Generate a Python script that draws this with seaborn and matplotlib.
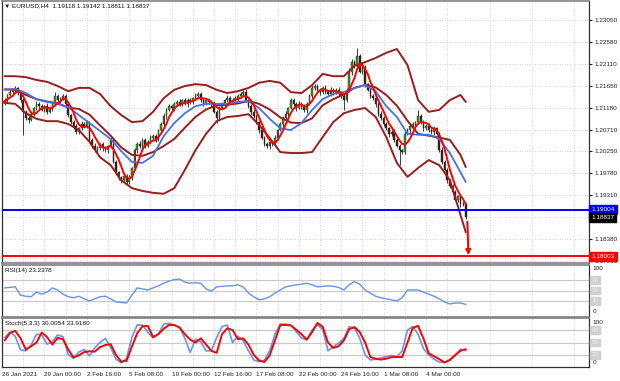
import numpy as np
import pandas as pd
import matplotlib
matplotlib.use("Agg")
import matplotlib.pyplot as plt
import matplotlib.transforms as mtransforms
import seaborn as sns

sns.set_style("white")
plt.rcParams['font.family'] = ['Liberation Sans', 'DejaVu Sans']

# EURUSD H4 closes, one per bar (bar 0 = 26 Jan 2021)
closes = [1.2128,
          1.2134, 1.2145, 1.2151, 1.2156, 1.2160, 1.2151, 1.2134, 1.2109, 1.2096, 1.2092,
          1.2104, 1.2117, 1.2126, 1.2121, 1.2113, 1.2121, 1.2109, 1.2117, 1.2126, 1.2143,
          1.2134, 1.2138, 1.2143, 1.2126, 1.2102, 1.2087, 1.2079, 1.2066, 1.2074, 1.2083,
          1.2079, 1.2087, 1.2049, 1.2036, 1.2027, 1.2032, 1.2040, 1.2032, 1.2027, 1.2036,
          1.2049, 1.2002, 1.1980, 1.1968, 1.1963, 1.1972, 1.1959, 1.1968, 1.1989, 1.2027,
          1.2040, 1.2036, 1.2049, 1.2036, 1.2045, 1.2053, 1.2057, 1.2049, 1.2070, 1.2083,
          1.2100, 1.2113, 1.2121, 1.2117, 1.2126, 1.2130, 1.2126, 1.2134, 1.2126, 1.2134,
          1.2130, 1.2138, 1.2143, 1.2147, 1.2134, 1.2126, 1.2134, 1.2130, 1.2126, 1.2109,
          1.2096, 1.2117, 1.2126, 1.2134, 1.2138, 1.2130, 1.2134, 1.2138, 1.2143, 1.2147,
          1.2151, 1.2134, 1.2121, 1.2109, 1.2100, 1.2087, 1.2070, 1.2053, 1.2040, 1.2036,
          1.2045, 1.2040, 1.2053, 1.2070, 1.2083, 1.2096, 1.2104, 1.2117, 1.2134, 1.2126,
          1.2117, 1.2126, 1.2121, 1.2113, 1.2126, 1.2143, 1.2160, 1.2164, 1.2156, 1.2151,
          1.2160, 1.2151, 1.2147, 1.2156, 1.2151, 1.2156, 1.2147, 1.2143, 1.2134, 1.2156,
          1.2194, 1.2215, 1.2207, 1.2228, 1.2194, 1.2203, 1.2168, 1.2156, 1.2143, 1.2138,
          1.2126, 1.2104, 1.2096, 1.2083, 1.2074, 1.2062, 1.2066, 1.2049, 1.2036, 1.2027,
          1.2023, 1.2062, 1.2070, 1.2079, 1.2083, 1.2087, 1.2100, 1.2087, 1.2074, 1.2079,
          1.2070, 1.2066, 1.2074, 1.2062, 1.2027, 1.2002, 1.1985, 1.1963, 1.1951, 1.1938,
          1.1921, 1.1929, 1.1912, 1.19118, 1.18837]

# wick length beyond the body, in pips
wick_up = [4, 5, 3, 6, 4, 5, 3, 4, 6, 3, 5, 4, 3, 7, 4, 5,
           3, 6, 4, 5, 8, 4, 3, 5, 4, 6, 3, 4, 5, 3, 6, 4,
           5, 3, 4, 6, 4, 3, 5, 4, 3, 6, 4, 5, 3, 4, 5, 4,
           6, 3, 5, 4, 6, 5, 4, 3, 6, 4, 5, 3, 4, 6, 4, 5,
           3, 5, 4, 6, 3, 4, 5, 4, 3, 6, 4, 5, 4, 3, 5, 4,
           6, 3, 4, 5, 3, 6, 4, 5, 4, 3, 5, 4, 6, 3, 4, 5,
           4, 3, 6, 4, 5, 3, 4, 6, 3, 5, 4, 6, 3, 4, 5, 4,
           6, 3, 5, 4, 3, 6, 4, 5, 3, 4, 6, 4, 5, 3, 4, 6,
           4, 5, 3, 8, 6, 4, 17, 5, 4, 6, 3, 4, 5, 4, 3, 6,
           4, 5, 3, 4, 6, 4, 5, 3, 6, 4, 5, 4, 3, 13, 5, 4,
           3, 6, 4, 5, 3, 4, 6, 4, 5, 3, 4, 5, 3, 4, 6, 2.4]
wick_dn = [5, 4, 6, 3, 5, 4, 7, 5, 49, 4, 6, 3, 5, 4, 6, 3,
           4, 5, 3, 6, 4, 5, 6, 3, 4, 5, 3, 6, 4, 5, 3, 4,
           5, 6, 4, 3, 5, 4, 6, 3, 5, 4, 3, 6, 4, 5, 3, 6,
           4, 5, 3, 6, 4, 5, 4, 3, 5, 6, 4, 3, 5, 4, 6, 3,
           4, 6, 3, 5, 4, 3, 6, 4, 5, 3, 6, 4, 5, 3, 4, 6,
           3, 11, 5, 4, 6, 3, 4, 5, 3, 6, 4, 5, 3, 4, 6, 5,
           4, 6, 3, 5, 4, 6, 3, 4, 5, 3, 6, 4, 5, 3, 4, 6,
           3, 5, 4, 6, 3, 4, 5, 3, 6, 4, 5, 3, 4, 6, 3, 5,
           4, 21, 5, 3, 6, 4, 5, 3, 4, 6, 3, 5, 4, 6, 3, 4,
           5, 3, 6, 4, 5, 3, 32, 4, 5, 3, 6, 4, 5, 3, 4, 6,
           3, 5, 4, 6, 3, 4, 5, 3, 6, 4, 5, 3, 4, 6, 3, 2.6]

# price-window indicators, read every 4th bar
ind_bars = list(range(1, 174, 4)) + [175]
bb_upper = [1.2185, 1.2185, 1.2183, 1.2177, 1.2173, 1.2164, 1.2153, 1.2160, 1.2160, 1.2147,
            1.2121, 1.2102, 1.2087, 1.2089, 1.2109, 1.2138, 1.2156, 1.2164, 1.2168, 1.2166,
            1.2156, 1.2149, 1.2153, 1.2160, 1.2171, 1.2175, 1.2171, 1.2151, 1.2149, 1.2166,
            1.2190, 1.2185, 1.2185, 1.2207, 1.2215, 1.2224, 1.2235, 1.2243, 1.2209, 1.2134,
            1.2109, 1.2113, 1.2134, 1.2145, 1.2130]
bb_mid = [1.2157, 1.2156, 1.2145, 1.2136, 1.2131, 1.2127, 1.2118, 1.2115, 1.2103, 1.2080,
          1.2058, 1.2033, 1.2017, 1.2015, 1.2023, 1.2036, 1.2051, 1.2075, 1.2098, 1.2114,
          1.2123, 1.2124, 1.2127, 1.2132, 1.2126, 1.2114, 1.2097, 1.2086, 1.2085, 1.2095,
          1.2123, 1.2136, 1.2146, 1.2160, 1.2166, 1.2161, 1.2145, 1.2122, 1.2090, 1.2062,
          1.2058, 1.2054, 1.2049, 1.2017, 1.1991]
bb_lower = [1.2128, 1.2126, 1.2106, 1.2094, 1.2089, 1.2089, 1.2083, 1.2070, 1.2045, 1.2012,
            1.1995, 1.1963, 1.1946, 1.1940, 1.1936, 1.1934, 1.1946, 1.1985, 1.2027, 1.2062,
            1.2089, 1.2098, 1.2100, 1.2104, 1.2081, 1.2053, 1.2023, 1.2021, 1.2021, 1.2023,
            1.2055, 1.2087, 1.2106, 1.2113, 1.2117, 1.2098, 1.2055, 1.2000, 1.1970, 1.1989,
            1.2006, 1.1995, 1.1963, 1.1889, 1.1852]
ma_blue = [1.2156, 1.2158, 1.2149, 1.2136, 1.2130, 1.2126, 1.2119, 1.2102, 1.2085, 1.2068,
           1.2051, 1.2025, 1.2002, 1.2000, 1.2015, 1.2057, 1.2085, 1.2106, 1.2121, 1.2126,
           1.2126, 1.2126, 1.2130, 1.2132, 1.2117, 1.2094, 1.2074, 1.2070, 1.2085, 1.2113,
           1.2136, 1.2147, 1.2151, 1.2160, 1.2166, 1.2153, 1.2121, 1.2098, 1.2062, 1.2060,
           1.2060, 1.2051, 1.2021, 1.1980, 1.1959]

# oscillators, read every 2nd bar
osc_bars = list(range(1, 176, 2))
rsi = [55, 56, 57, 41, 39, 38, 47, 43, 47, 55,
       51, 43, 38, 36, 39, 34, 30, 34, 38, 39,
       34, 28, 27, 26, 41, 55, 53, 51, 55, 59,
       64, 68, 71, 72, 66, 64, 65, 64, 53, 49,
       57, 58, 59, 59, 61, 57, 45, 38, 32, 34,
       38, 45, 51, 57, 59, 61, 62, 64, 61, 57,
       58, 59, 58, 56, 51, 61, 67, 62, 51, 45,
       39, 36, 34, 32, 30, 36, 51, 51, 51, 47,
       43, 39, 34, 28, 24, 26, 26, 23.24]
stoch_k = [62, 75, 65, 32, 30, 44, 70, 68, 46, 52,
           68, 64, 21, 12, 27, 33, 18, 37, 50, 60,
           38, 10, 1, 12, 62, 92, 92, 75, 61, 70,
           94, 96, 92, 86, 60, 26, 58, 52, 30, 30,
           62, 88, 92, 50, 65, 55, 30, 8, 4, 7,
           30, 70, 94, 94, 92, 76, 61, 56, 80, 92,
           82, 30, 40, 48, 60, 88, 85, 60, 20, 8,
           10, 13, 16, 19, 16, 30, 80, 88, 70, 36,
           20, 10, 3, 2, 8, 18, 34, 30.0]
stoch_d = [55, 73, 78, 60, 33, 41, 50, 74, 63, 45,
           61, 58, 33, 14, 19, 27, 29, 28, 39, 44,
           46, 20, 4, 6, 40, 72, 89, 90, 63, 70,
           83, 92, 92, 86, 70, 57, 50, 60, 45, 30,
           25, 70, 84, 80, 58, 60, 45, 20, 7, 3,
           19, 55, 92, 92, 91, 81, 70, 57, 75, 97,
           88, 50, 37, 41, 55, 82, 87, 75, 50, 15,
           11, 9, 11, 15, 15, 15, 50, 85, 90, 60,
           24, 17, 10, 2, 8, 20, 30, 33.9]
rsi_levels = [70, 50, 30]
stoch_levels = [80, 50, 20]

x_ticks = list(range(0, 161, 16))
x_labels = ['26 Jan 2021', '29 Jan 00:00', '2 Feb 16:00', '5 Feb 08:00', '10 Feb 00:00',
            '12 Feb 16:00', '17 Feb 08:00', '22 Feb 00:00', '24 Feb 16:00', '1 Mar 08:00',
            '4 Mar 00:00']
price_ticks = [1.23050, 1.22580, 1.22110, 1.21650, 1.21180, 1.20710, 1.20250, 1.19780,
               1.19310, 1.18840, 1.18380, 1.17910]
level_blue = 1.19004
level_red = 1.18003
ohlc = [1.19118, 1.19142, 1.18811, 1.18837]
rsi_last = 23.2378
stoch_last = [30.0054, 33.9160]
arrow_from = (175.6, 1.18744)
arrow_to = (176.0, 1.18030)

# candles
df = pd.DataFrame({'close': closes})
df['open'] = df['close'].shift(1).fillna(df['close'])
df['high'] = df[['open', 'close']].max(axis=1) + np.array(wick_up) * 1e-4
df['low'] = df[['open', 'close']].min(axis=1) - np.array(wick_dn) * 1e-4
df['ma5'] = df['close'].rolling(5, min_periods=1).mean()

fs = 4.6
grid_kw = dict(color='#c4c4c4', linestyle=(0, (1, 2)), linewidth=0.6)

fig = plt.figure(figsize=(6.2, 3.81), dpi=100)
ax = fig.add_axes([2 / 620, 118 / 381, 587 / 620, 262 / 381])
ax_rsi = fig.add_axes([2 / 620, 64.5 / 381, 587 / 620, 52 / 381], sharex=ax)
ax_st = fig.add_axes([2 / 620, 14 / 381, 587 / 620, 49 / 381], sharex=ax)

# main chart
ax.vlines(df.index, df['low'], df['high'], color='#1e1e1e', linewidth=0.6, zorder=3)
body_lo = df[['open', 'close']].min(axis=1)
body_h = (df['close'] - df['open']).abs().clip(lower=0.00004)
bull = df['close'] >= df['open']
ax.bar(df.index[bull], body_h[bull], bottom=body_lo[bull], width=0.6, color='#3a9a22',
       edgecolor='#1e1e1e', linewidth=0.3, zorder=4)
ax.bar(df.index[~bull], body_h[~bull], bottom=body_lo[~bull], width=0.6, color='#3a1e1e',
       edgecolor='#1e1e1e', linewidth=0.3, zorder=4)

for band in [bb_upper, bb_mid, bb_lower]:
    sns.lineplot(x=ind_bars, y=band, ax=ax, color='#9b1c1c', linewidth=1.4, zorder=5,
                 estimator=None, legend=False)
sns.lineplot(x=ind_bars, y=ma_blue, ax=ax, color='#4472e6', linewidth=1.3, zorder=5,
             estimator=None, legend=False)
sns.lineplot(x=df.index, y=df['ma5'], ax=ax, color='#ff0000', linewidth=1.4, zorder=6,
             estimator=None, legend=False)

ax.axhline(level_blue, color='#0000ff', linewidth=1.4, zorder=7)
ax.axhline(level_red, color='#ff0000', linewidth=1.4, zorder=7)
ax.annotate('', xy=arrow_to, xytext=arrow_from,
            arrowprops=dict(arrowstyle='-|>', color='#ff0000', lw=1.5, mutation_scale=7,
                            shrinkA=0, shrinkB=0), zorder=8)

ax.set_xlim(0, 221.5)
ax.set_ylim(1.17862, 1.234557)
ax.set_yticks(price_ticks)
# the 1.18840 label sits under the last-price box, so leave it blank
ax.set_yticklabels(['' if abs(p - ohlc[3]) < 0.0002 else f'{p:.5f}' for p in price_ticks])
ax.yaxis.tick_right()
ax.tick_params(axis='y', labelsize=fs, length=2, pad=2, colors='#202020')
ax.tick_params(axis='x', length=0, labelbottom=False)
ax.set_xticks(x_ticks)
ax.set_xticks(np.arange(8, 221, 16), minor=True)
ax.tick_params(axis='x', which='minor', length=0)
ax.grid(True, axis='both', which='both', **grid_kw)
ax.set_xlabel('')
ax.set_ylabel('')

trans = mtransforms.blended_transform_factory(ax.transAxes, ax.transData)
for val, fc in [(level_blue, '#0000ff'), (ohlc[3], '#000000'), (level_red, '#ff0000')]:
    ax.text(1.004, val, f'{val:.5f}', transform=trans, color='white', fontsize=fs,
            ha='left', va='center', zorder=20, clip_on=False,
            bbox=dict(boxstyle='square,pad=0.3', fc=fc, ec=fc))
ax.text(0.004, 0.981, '\u25bc EURUSD,H4  ' + ' '.join(f'{v:.5f}' for v in ohlc),
        transform=ax.transAxes, fontsize=fs, va='center', ha='left', color='#101010')

# RSI
for lv in rsi_levels:
    ax_rsi.axhline(lv, color='#c8c8c8', linewidth=0.8, zorder=1)
sns.lineplot(x=osc_bars, y=rsi, ax=ax_rsi, color='#6495ed', linewidth=1.0, zorder=3,
             estimator=None, legend=False)
ax_rsi.set_ylim(0, 100)
ax_rsi.set_yticks([])
ax_rsi.xaxis.grid(True, which='both', **grid_kw)
ax_rsi.tick_params(axis='x', which='both', length=0, labelbottom=False)
ax_rsi.set_ylabel('')
ax_rsi.text(0.005, 0.89, f'RSI(14) {rsi_last:.4f}', transform=ax_rsi.transAxes, fontsize=fs,
            va='center', color='#101010')

# Stochastic
for lv in stoch_levels:
    ax_st.axhline(lv, color='#c8c8c8', linewidth=0.8, zorder=1)
sns.lineplot(x=osc_bars, y=stoch_k, ax=ax_st, color='#6495ed', linewidth=1.2, zorder=3,
             estimator=None, legend=False)
sns.lineplot(x=osc_bars, y=stoch_d, ax=ax_st, color='#ff0000', linewidth=1.4, zorder=4,
             estimator=None, legend=False)
ax_st.set_ylim(-8.9, 108.9)
ax_st.set_yticks([])
ax_st.set_ylabel('')
ax_st.xaxis.grid(True, which='both', **grid_kw)
ax_st.set_xticks(x_ticks)
ax_st.set_xticklabels(x_labels)
ax_st.tick_params(axis='x', which='major', labelsize=fs, length=2, pad=1.5, colors='#202020')
ax_st.tick_params(axis='x', which='minor', length=0)
for lab in ax_st.get_xticklabels():
    lab.set_horizontalalignment('left')
ax_st.text(0.005, 0.88, 'Stoch(5,3,3) ' + ' '.join(f'{v:.4f}' for v in stoch_last),
           transform=ax_st.transAxes, fontsize=fs, va='center', color='#101010')

# right-hand scale texts of the sub windows
for a, top_y, bot_y, levels in [(ax_rsi, 0.93, 0.09, rsi_levels), (ax_st, 0.90, 0.10, stoch_levels)]:
    a.text(1.006, top_y, '100', transform=a.transAxes, fontsize=fs, va='center', color='#202020')
    a.text(1.006, bot_y, '0', transform=a.transAxes, fontsize=fs, va='center', color='#202020')
    tr = mtransforms.blended_transform_factory(a.transAxes, a.transData)
    for lv in levels:
        a.text(1.004, lv, str(lv), transform=tr, fontsize=fs, va='center', color='#ececec',
               clip_on=False, bbox=dict(boxstyle='square,pad=0.2', fc='#d0d0d0', ec='#d0d0d0'))

for a in [ax, ax_rsi, ax_st]:
    for side in ['left', 'right']:
        a.spines[side].set_color('#303030')
        a.spines[side].set_linewidth(0.9)
    a.spines['top'].set_color('#808080')
    a.spines['bottom'].set_color('#808080')
    a.spines['top'].set_linewidth(1.2)
    a.spines['bottom'].set_linewidth(1.2)
ax_st.spines['bottom'].set_color('#303030')
ax_st.spines['bottom'].set_linewidth(0.9)

fig.savefig('out.png', dpi=100, facecolor='white')
